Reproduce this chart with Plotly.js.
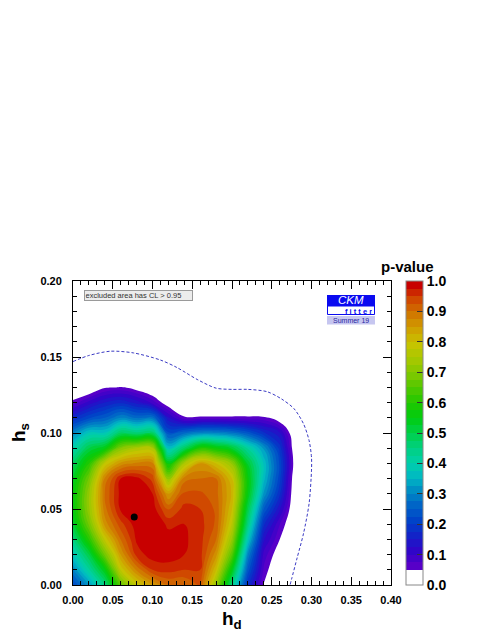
<!DOCTYPE html>
<html><head><meta charset="utf-8">
<script src="https://cdn.plot.ly/plotly-3.0.1.min.js"></script>
<style>html,body{margin:0;padding:0;background:#fff}#chart{width:497px;height:643px}</style>
</head><body><div id="chart"></div>
<script>
// ---- data ----
const hdGrid = [0,0.02,0.04,0.06,0.08,0.10,0.12,0.14,0.16,0.18,0.20,0.22,0.24,0.26,0.28,0.30];
const hsGrid = [0,0.01,0.02,0.03,0.04,0.05,0.06,0.07,0.08,0.09,0.10,0.11,0.12,0.13,0.14];
// p-value, one row per hs value, one column per hd value
const pRow000 = [0.22,0.32,0.45,0.66,0.78,0.85,0.90,0.90,0.93,0.72,0.45,0.18,0.045,0,0,0];
const pRow001 = [0.30,0.42,0.55,0.78,0.88,0.95,0.96,0.95,0.95,0.80,0.55,0.24,0.07,0,0,0];
const pRow002 = [0.38,0.50,0.68,0.85,0.96,0.99,0.99,0.975,0.96,0.86,0.65,0.30,0.09,0.023,0,0];
const pRow003 = [0.45,0.60,0.78,0.90,0.98,0.995,0.985,0.98,0.96,0.90,0.72,0.38,0.13,0.05,0,0];
const pRow004 = [0.52,0.68,0.86,0.94,0.99,0.995,0.97,0.975,0.96,0.92,0.77,0.45,0.18,0.076,0,0];
const pRow005 = [0.55,0.72,0.89,0.98,0.995,0.99,0.92,0.96,0.95,0.92,0.80,0.50,0.25,0.13,0,0];
const pRow006 = [0.55,0.72,0.90,0.985,0.99,0.975,0.85,0.93,0.93,0.91,0.82,0.55,0.32,0.18,0,0];
const pRow007 = [0.53,0.68,0.88,0.975,0.985,0.94,0.72,0.89,0.90,0.90,0.80,0.56,0.36,0.21,0.004,0];
const pRow008 = [0.48,0.60,0.78,0.86,0.88,0.88,0.55,0.75,0.85,0.80,0.72,0.52,0.37,0.22,0.02,0];
const pRow009 = [0.40,0.50,0.55,0.70,0.75,0.75,0.37,0.48,0.60,0.57,0.52,0.42,0.32,0.19,0.009,0];
const pRow010 = [0.30,0.38,0.38,0.48,0.46,0.48,0.23,0.27,0.30,0.30,0.28,0.24,0.18,0.13,0,0];
const pRow011 = [0.17,0.22,0.25,0.30,0.27,0.28,0.13,0.055,0.055,0.055,0.055,0.055,0.055,0.016,0,0];
const pRow012 = [0.06,0.11,0.15,0.17,0.14,0.09,0.02,0,0,0,0,0,0,0,0,0];
const pRow013 = [0,0,0.045,0.052,0.03,0,0,0,0,0,0,0,0,0,0,0];
const pRow014 = [0,0,0,0,0,0,0,0,0,0,0,0,0,0,0,0];

const bestFitHd = [0.077];
const bestFitHs = [0.0447];

// dashed contour
const dashedHd = [0,0.02,0.047,0.076,0.11,0.131,0.157,0.18,0.20,0.22,0.244,0.262,0.278,0.29,0.297,0.300,0.300,0.297,0.29,0.282,0.275,0.273];
const dashedHs = [0.147,0.151,0.1538,0.1527,0.148,0.143,0.135,0.1295,0.1287,0.1287,0.1272,0.1225,0.116,0.106,0.095,0.084,0.0756,0.0537,0.034,0.018,0.004,0];

const xTickVals = [0,0.05,0.10,0.15,0.20,0.25,0.30,0.35,0.40];
const xTickText = ['0.00','0.05','0.10','0.15','0.20','0.25','0.30','0.35','0.40'];
const yTickVals = [0,0.05,0.10,0.15,0.20];
const yTickText = ['0.00','0.05','0.10','0.15','0.20'];
const cbTickVals = [0,0.1,0.2,0.3,0.4,0.5,0.6,0.7,0.8,0.9,1.0];
const cbTickText = ['0.0','0.1','0.2','0.3','0.4','0.5','0.6','0.7','0.8','0.9','1.0'];

// ---- styling ----
const pValueZ = [pRow000,pRow001,pRow002,pRow003,pRow004,pRow005,pRow006,pRow007,pRow008,pRow009,pRow010,pRow011,pRow012,pRow013,pRow014];

const colorStops = [
  [0,'#ffffff'],[0.0499,'#ffffff'],[0.05,'#5800c8'],[0.10,'#3204c8'],[0.15,'#1420c8'],
  [0.20,'#0040c8'],[0.25,'#0060c8'],[0.30,'#0088c4'],[0.35,'#00b8c4'],[0.40,'#00d0a8'],
  [0.45,'#00d080'],[0.50,'#00d048'],[0.55,'#00cc10'],[0.60,'#20c800'],[0.65,'#50c800'],
  [0.70,'#80c800'],[0.75,'#a8c800'],[0.80,'#c8c400'],[0.85,'#d0a000'],[0.90,'#d07800'],
  [0.95,'#d04800'],[1.0,'#c80000']
];
const CS = 0.025;
const toPos = v => Math.min(1, Math.max(0, (v + CS/2) / (1 + CS)));
const colorscale = [[0,'#ffffff']].concat(colorStops.slice(1).map(s => [toPos(s[0]), s[1]]));
colorscale.push([1,'#c80000']);

const L = 73, R = 391, T = 281, B = 585;
const px = x => (x - L) / (R - L);
const py = y => (B - y) / (B - T);
const FONT = 'Liberation Sans, Arial, Helvetica, sans-serif';

const traces = [
  {
    type: 'contour', x: hdGrid, y: hsGrid, z: pValueZ,
    zmin: 0, zmax: 1,
    contours: {start: 0, end: 1, size: CS, coloring: 'fill', showlines: false},
    line: {width: 0, smoothing: 1.3},
    colorscale: colorscale,
    hoverinfo: 'skip',
    colorbar: {
      thickness: 17, thicknessmode: 'pixels', len: 1, lenmode: 'fraction',
      x: px(406), xanchor: 'left', xpad: 0, y: 0.5, yanchor: 'middle', ypad: 0,
      outlinewidth: 1, outlinecolor: '#888888',
      tickmode: 'array', tickvals: cbTickVals, ticktext: cbTickText,
      ticks: 'inside', ticklen: 6, tickcolor: '#333333', tickwidth: 1,
      tickfont: {family: FONT, size: 14, weight: 'bold', color: '#000'}
    }
  },
  {
    type: 'scatter', mode: 'lines', x: dashedHd, y: dashedHs,
    line: {color: '#3a3ac4', width: 1, dash: '3px,2px', shape: 'spline', smoothing: 0.8},
    hoverinfo: 'skip'
  },
  {
    type: 'scatter', mode: 'markers', x: bestFitHd, y: bestFitHs,
    marker: {color: '#000', size: 7}, hoverinfo: 'skip'
  }
];

const axisCommon = {
  showgrid: false, zeroline: false, showline: true, linecolor: '#000', linewidth: 1,
  mirror: 'ticks', ticks: 'inside', ticklen: 8, tickwidth: 1, tickcolor: '#000',
  tickfont: {family: FONT, size: 11, weight: 'bold', color: '#000'},
  fixedrange: true
};

const layout = {
  width: 497, height: 643,
  margin: {l: L, r: 497 - R, t: T, b: 643 - B, pad: 0},
  paper_bgcolor: '#fff', plot_bgcolor: '#fff',
  showlegend: false, hovermode: false,
  xaxis: Object.assign({}, axisCommon, {
    range: [0, 0.4], tickmode: 'array', tickvals: xTickVals, ticktext: xTickText,
    ticklabelstandoff: 5,
    minor: {tickmode: 'linear', tick0: 0, dtick: 0.01, ticks: 'inside', ticklen: 4, tickcolor: '#000', showgrid: false}
  }),
  yaxis: Object.assign({}, axisCommon, {
    range: [0, 0.2], tickmode: 'array', tickvals: yTickVals, ticktext: yTickText,
    ticklabelstandoff: 8,
    minor: {tickmode: 'linear', tick0: 0, dtick: 0.01, ticks: 'inside', ticklen: 4, tickcolor: '#000', showgrid: false}
  }),
  shapes: [
    {type: 'rect', xref: 'paper', yref: 'paper', x0: px(327), x1: px(375), y0: py(306), y1: py(295), fillcolor: '#0a0af0', line: {width: 0}},
    {type: 'rect', xref: 'paper', yref: 'paper', x0: px(327.5), x1: px(374.5), y0: py(314.5), y1: py(306), fillcolor: '#ffffff', line: {color: '#0a0af0', width: 1}},
    {type: 'rect', xref: 'paper', yref: 'paper', x0: px(327), x1: px(375), y0: py(324.5), y1: py(316), fillcolor: '#c6c6f0', line: {width: 0}}
  ],
  annotations: [
    {xref: 'paper', yref: 'paper', x: px(407), y: py(277), xanchor: 'center', yanchor: 'bottom',
     text: 'p-value', showarrow: false, font: {family: FONT, size: 15, weight: 'bold', color: '#000'}},
    {xref: 'paper', yref: 'paper', x: 0.5, y: py(606), xanchor: 'center', yanchor: 'top',
     text: 'h<sub>d</sub>', showarrow: false, font: {family: FONT, size: 19, weight: 'bold', color: '#000'}},
    {xref: 'paper', yref: 'paper', x: px(20), y: 0.5, xanchor: 'center', yanchor: 'middle', textangle: -90,
     text: 'h<sub>s</sub>', showarrow: false, font: {family: FONT, size: 19, weight: 'bold', color: '#000'}},
    {xref: 'paper', yref: 'paper', x: px(84), y: py(295.3), xanchor: 'left', yanchor: 'middle',
     text: 'excluded area has CL > 0.95', showarrow: false, align: 'left', width: 106, height: 8,
     bgcolor: '#ececec', bordercolor: '#9a9a9a', borderwidth: 1, borderpad: 0.5,
     font: {family: FONT, size: 7.5, color: '#333'}},
    {xref: 'paper', yref: 'paper', x: px(351), y: py(300), xanchor: 'center', yanchor: 'middle',
     text: '<i>CKM</i>', showarrow: false, height: 10, borderpad: 0, font: {family: FONT, size: 11.5, color: '#ffffff'}},
    {xref: 'paper', yref: 'paper', x: px(373), y: py(311), xanchor: 'right', yanchor: 'middle',
     text: 'f i t t e r', showarrow: false, height: 7, borderpad: 0, font: {family: FONT, size: 7.5, weight: 'bold', color: '#0a0af0'}},
    {xref: 'paper', yref: 'paper', x: px(351), y: py(320.5), xanchor: 'center', yanchor: 'middle',
     text: 'Summer 19', showarrow: false, height: 7, borderpad: 0, font: {family: FONT, size: 7, color: '#2828a0'}}
  ]
};

Plotly.newPlot('chart', traces, layout, {displayModeBar: false, staticPlot: true});
</script>
</body></html>
